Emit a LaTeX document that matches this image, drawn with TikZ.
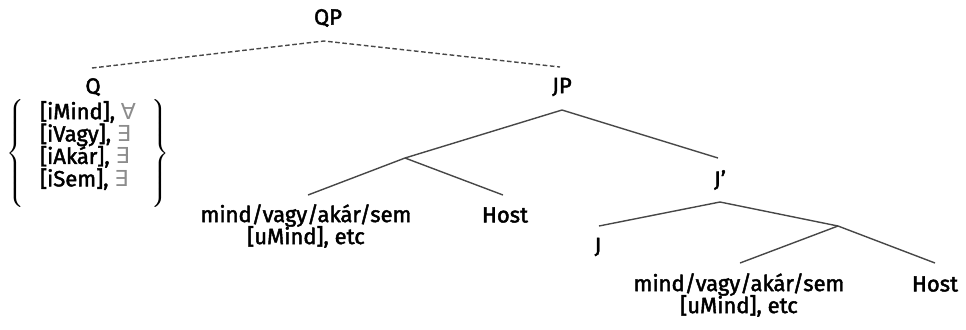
\documentclass[tikz,border=0pt]{standalone}
\usepackage{fontspec}
\setmainfont{Fira Sans}[FakeBold=2]
\newfontfamily\symfont{DejaVu Sans}
\begin{document}
\begin{tikzpicture}[x=0.5pt,y=-0.5pt,
  lbl/.style={inner sep=0pt,font=\fontsize{11}{13}\selectfont,text=black},
  br/.style={draw=black!72,line width=0.7pt},
  dbr/.style={br,dash pattern=on 2.3pt off 1.3pt}]
\useasboundingbox (0,0) rectangle (966,329);
% labels
\node[lbl] (QP) at (328,18) {QP};
\node[lbl] (Q) at (93,87) {Q};
\node[lbl] (JP) at (562,87) {JP};
\node[lbl] (Jbar) at (720,180) {J’};
\node[lbl] (J) at (598,247) {J};
\node[lbl,align=center] (M1) at (306,226) {mind/vagy/akár/sem\\[-2pt]{[}uMind{]}, etc};
\node[lbl] (H1) at (505,215) {Host};
\node[lbl,align=center] (M2) at (739,295) {mind/vagy/akár/sem\\[-2pt]{[}uMind{]}, etc};
\node[lbl] (H2) at (935,284) {Host};
\node[lbl] (feat) at (88,153) {$\left\{\vcenter{\hbox{\rule[-27pt]{0pt}{54pt}\hspace{8pt}\begin{tabular}{@{}l@{}}
{[}iMind{]}, {\symfont\color{black!45}∀}\\[-1.8pt]
{[}iVagy{]}, {\symfont\color{black!45}∃}\\[-1.8pt]
{[}iAkár{]}, {\symfont\color{black!45}∃}\\[-1.8pt]
{[}iSem{]}, {\symfont\color{black!45}∃}
\end{tabular}\hspace{8pt}}}\right\}$};
% junctions
\coordinate (qpT) at (324,41);
\coordinate (qL) at (92,68);
\coordinate (qR) at (560,67);
\coordinate (jpT) at (562,110);
\coordinate (xT) at (405,158);
\coordinate (jbL) at (718,158);
\coordinate (mL) at (308,195);
\coordinate (hL) at (503,195);
\coordinate (jbT) at (720,202);
\coordinate (jL) at (599,226);
\coordinate (yT) at (838,226);
\coordinate (m2L) at (740,263);
\coordinate (h2L) at (935,263);
% branches
\draw[dbr] (qL) -- (qpT) -- (qR);
\draw[br] (xT) -- (jpT) -- (jbL);
\draw[br] (mL) -- (xT) -- (hL);
\draw[br] (jL) -- (jbT) -- (yT);
\draw[br] (m2L) -- (yT) -- (h2L);
\end{tikzpicture}
\end{document}
